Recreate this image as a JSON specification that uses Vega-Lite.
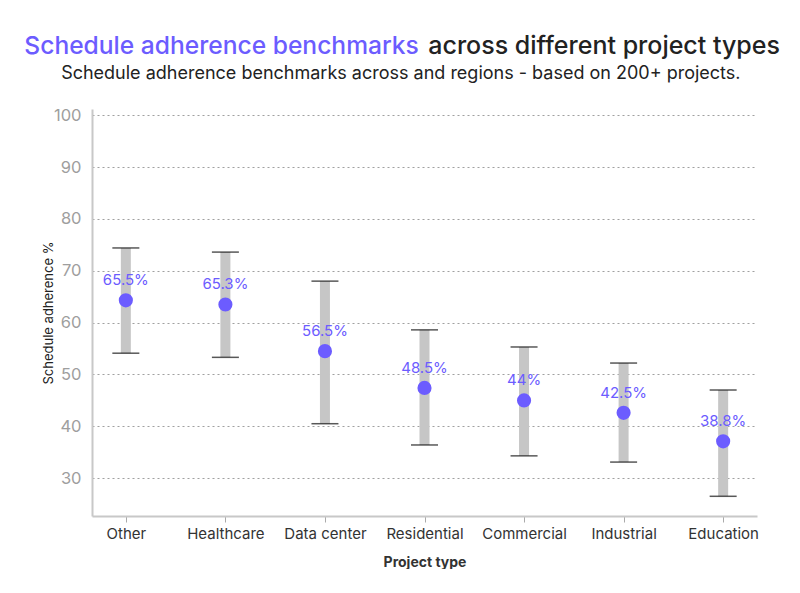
{
  "$schema": "https://vega.github.io/schema/vega-lite/v6.json",
  "padding": {"left": 24, "top": 33, "right": 0, "bottom": 0},
  "background": "white",
  "config": {"font": "Inter", "view": {"stroke": null}, "concat": {"spacing": 0}},
  "title": {"text": "Schedule adherence benchmarks", "color": "#6c5cff", "fontSize": 24.6, "fontWeight": 500, "anchor": "start", "frame": "group", "dx": -67.7, "dy": 29},
  "vconcat": [
    {
      "title": {"text": "across different project types", "color": "#222222", "fontSize": 25, "fontWeight": 500, "anchor": "start", "frame": "group", "dx": 336.3, "offset": 6},
      "vconcat": [
        {
          "title": {"text": "Schedule adherence benchmarks across and regions - based on 200+ projects.", "color": "#222222", "fontSize": 18, "fontWeight": "normal", "anchor": "middle", "frame": "group", "dx": -23.7, "offset": 24},
          "width": 665,
          "height": 407,
          "data": {"values": [
            {"type": "Other", "mid": 64.3, "lower": 54.1, "upper": 74.4, "label": "65.5%"},
            {"type": "Healthcare", "mid": 63.5, "lower": 53.3, "upper": 73.6, "label": "65.3%"},
            {"type": "Data center", "mid": 54.5, "lower": 40.5, "upper": 68.0, "label": "56.5%"},
            {"type": "Residential", "mid": 47.4, "lower": 36.4, "upper": 58.6, "label": "48.5%"},
            {"type": "Commercial", "mid": 45.0, "lower": 34.3, "upper": 55.3, "label": "44%"},
            {"type": "Industrial", "mid": 42.6, "lower": 33.1, "upper": 52.2, "label": "42.5%"},
            {"type": "Education", "mid": 37.1, "lower": 26.5, "upper": 47.0, "label": "38.8%"}
          ]},
          "encoding": {
            "x": {"field": "type", "type": "nominal", "sort": null,
              "scale": {"type": "point", "padding": 0.34},
              "axis": {"title": "Project type", "labelAngle": 0, "labelFontSize": 15, "labelColor": "#333333", "labelPadding": 4,
                "tickColor": "#aaaaaa", "tickSize": 6, "domainColor": "#c8c8c8", "domainWidth": 2,
                "titleFontSize": 14, "titleFontWeight": "bold", "titleColor": "#333333", "titlePadding": 14}}
          },
          "layer": [
            {"mark": {"type": "rule", "strokeWidth": 10, "color": "#c6c6c6"},
             "encoding": {
               "y": {"field": "lower", "type": "quantitative",
                 "scale": {"domain": [22.7, 101.2], "nice": false, "zero": false},
                 "axis": {"title": "Schedule adherence %", "values": [30, 40, 50, 60, 70, 80, 90, 100], "ticks": false,
                   "labelFontSize": 16.5, "labelColor": "#9e9e9e", "labelPadding": 11,
                   "grid": true, "gridColor": "#a0a0a0", "gridDash": [2, 3], "gridWidth": 1.2,
                   "domainColor": "#c8c8c8", "domainWidth": 2,
                   "titleFontSize": 13, "titleFontWeight": "normal", "titleColor": "#222222", "titlePadding": -2}},
               "y2": {"field": "upper"}}},
            {"mark": {"type": "tick", "size": 27, "thickness": 1.5, "color": "#111111"},
             "encoding": {"y": {"field": "upper", "type": "quantitative"}}},
            {"mark": {"type": "tick", "size": 27, "thickness": 1.5, "color": "#111111"},
             "encoding": {"y": {"field": "lower", "type": "quantitative"}}},
            {"mark": {"type": "circle", "size": 200, "color": "#6c5cff", "opacity": 1},
             "encoding": {"y": {"field": "mid", "type": "quantitative"}}},
            {"mark": {"type": "text", "fontSize": 15, "color": "#6c5cff", "dy": -20},
             "encoding": {"y": {"field": "mid", "type": "quantitative"}, "text": {"field": "label"}}}
          ]
        }
      ]
    }
  ]
}
